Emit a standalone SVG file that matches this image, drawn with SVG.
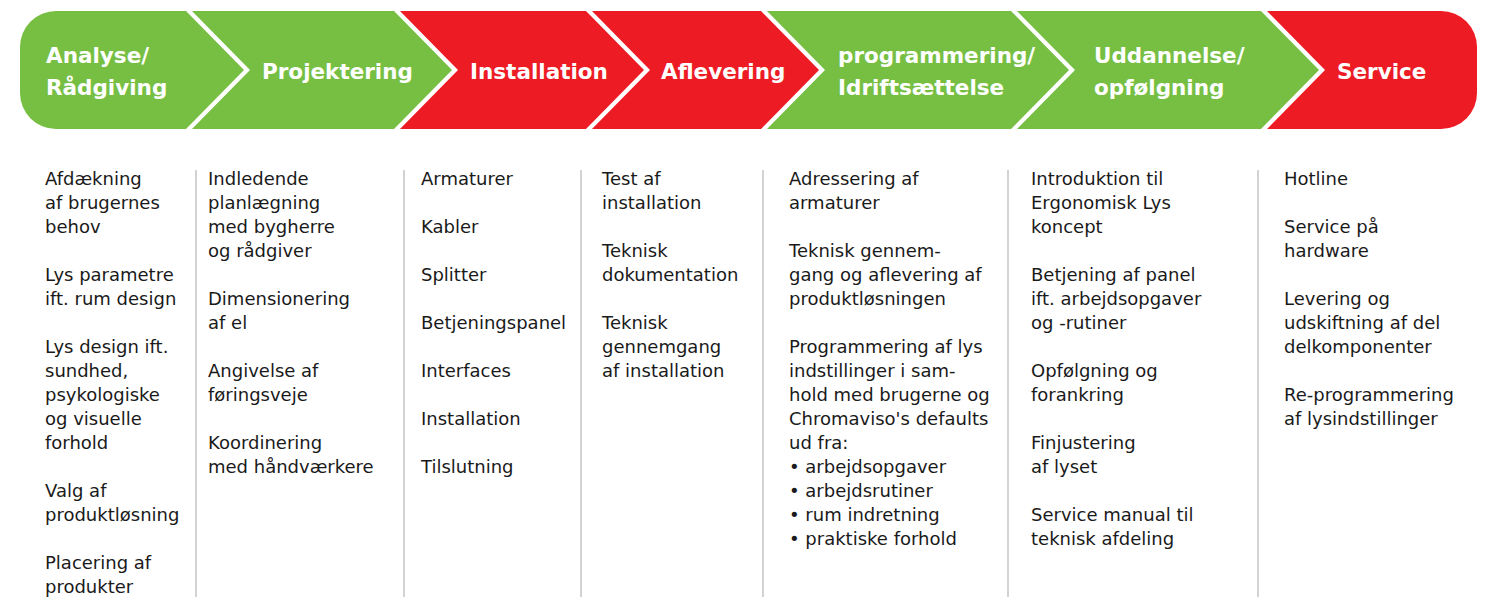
<svg xmlns="http://www.w3.org/2000/svg" width="1487" height="597" viewBox="0 0 1487 597">
<style>
.g{fill:#76bf43}
.r{fill:#ed1c24}
.h{font-family:"DejaVu Sans","Liberation Sans",sans-serif;font-weight:bold;font-size:21.5px;fill:#fff}
.b{font-family:"DejaVu Sans","Liberation Sans",sans-serif;font-size:18px;fill:#1a1a1a}
.div{stroke:#c4c4c4;stroke-width:1.5}
</style>
<defs>
<clipPath id="bar"><rect x="20" y="11" width="1457" height="118" rx="36" ry="36"/></clipPath>
</defs>
<rect width="1487" height="597" fill="#fff"/>
<g clip-path="url(#bar)">
<g id="n1"><polygon class="g" points="0,11 186,11 244,70 186,129 0,129"/>
<text class="h" x="46" y="63">Analyse/</text><text class="h" x="46" y="95">Rådgiving</text></g>
<g id="n2"><polygon class="g" points="192,11 394,11 452,70 394,129 192,129 250,70"/>
<text class="h" x="262" y="79">Projektering</text></g>
<g id="n3"><polygon class="r" points="400,11 586,11 644,70 586,129 400,129 458,70"/>
<text class="h" x="470" y="79">Installation</text></g>
<g id="n4"><polygon class="r" points="592,11 761,11 819,70 761,129 592,129 650,70"/>
<text class="h" x="661" y="79">Aflevering</text></g>
<g id="n5"><polygon class="g" points="767,11 1011,11 1069,70 1011,129 767,129 825,70"/>
<text class="h" x="838" y="63">programmering/</text><text class="h" x="838" y="95">Idriftsættelse</text></g>
<g id="n6"><polygon class="g" points="1017,11 1261,11 1319,70 1261,129 1017,129 1075,70"/>
<text class="h" x="1094" y="63">Uddannelse/</text><text class="h" x="1094" y="95">opfølgning</text></g>
<g id="n7"><polygon class="r" points="1267,11 1487,11 1487,129 1267,129 1325,70"/>
<text class="h" x="1337" y="79">Service</text></g>
</g>
<g id="dividers">
<line class="div" x1="196" y1="170" x2="196" y2="597"/>
<line class="div" x1="404" y1="170" x2="404" y2="597"/>
<line class="div" x1="581" y1="170" x2="581" y2="597"/>
<line class="div" x1="763" y1="170" x2="763" y2="597"/>
<line class="div" x1="1008" y1="170" x2="1008" y2="597"/>
<line class="div" x1="1258" y1="170" x2="1258" y2="597"/>
</g>
<g id="c1" class="b">
<text x="45" y="185">Afdækning</text>
<text x="45" y="209">af brugernes</text>
<text x="45" y="233">behov</text>
<text x="45" y="281">Lys parametre</text>
<text x="45" y="305">ift. rum design</text>
<text x="45" y="353">Lys design ift.</text>
<text x="45" y="377">sundhed,</text>
<text x="45" y="401">psykologiske</text>
<text x="45" y="425">og visuelle</text>
<text x="45" y="449">forhold</text>
<text x="45" y="497">Valg af</text>
<text x="45" y="521">produktløsning</text>
<text x="45" y="569">Placering af</text>
<text x="45" y="593">produkter</text>
</g>
<g id="c2" class="b">
<text x="208" y="185">Indledende</text>
<text x="208" y="209">planlægning</text>
<text x="208" y="233">med bygherre</text>
<text x="208" y="257">og rådgiver</text>
<text x="208" y="305">Dimensionering</text>
<text x="208" y="329">af el</text>
<text x="208" y="377">Angivelse af</text>
<text x="208" y="401">føringsveje</text>
<text x="208" y="449">Koordinering</text>
<text x="208" y="473">med håndværkere</text>
</g>
<g id="c3" class="b">
<text x="421" y="185">Armaturer</text>
<text x="421" y="233">Kabler</text>
<text x="421" y="281">Splitter</text>
<text x="421" y="329">Betjeningspanel</text>
<text x="421" y="377">Interfaces</text>
<text x="421" y="425">Installation</text>
<text x="421" y="473">Tilslutning</text>
</g>
<g id="c4" class="b">
<text x="602" y="185">Test af</text>
<text x="602" y="209">installation</text>
<text x="602" y="257">Teknisk</text>
<text x="602" y="281">dokumentation</text>
<text x="602" y="329">Teknisk</text>
<text x="602" y="353">gennemgang</text>
<text x="602" y="377">af installation</text>
</g>
<g id="c5" class="b">
<text x="789" y="185">Adressering af</text>
<text x="789" y="209">armaturer</text>
<text x="789" y="257">Teknisk gennem-</text>
<text x="789" y="281">gang og aflevering af</text>
<text x="789" y="305">produktløsningen</text>
<text x="789" y="353">Programmering af lys</text>
<text x="789" y="377">indstillinger i sam-</text>
<text x="789" y="401">hold med brugerne og</text>
<text x="789" y="425">Chromaviso's defaults</text>
<text x="789" y="449">ud fra:</text>
<text x="789" y="473">• arbejdsopgaver</text>
<text x="789" y="497">• arbejdsrutiner</text>
<text x="789" y="521">• rum indretning</text>
<text x="789" y="545">• praktiske forhold</text>
</g>
<g id="c6" class="b">
<text x="1031" y="185">Introduktion til</text>
<text x="1031" y="209">Ergonomisk Lys</text>
<text x="1031" y="233">koncept</text>
<text x="1031" y="281">Betjening af panel</text>
<text x="1031" y="305">ift. arbejdsopgaver</text>
<text x="1031" y="329">og -rutiner</text>
<text x="1031" y="377">Opfølgning og</text>
<text x="1031" y="401">forankring</text>
<text x="1031" y="449">Finjustering</text>
<text x="1031" y="473">af lyset</text>
<text x="1031" y="521">Service manual til</text>
<text x="1031" y="545">teknisk afdeling</text>
</g>
<g id="c7" class="b">
<text x="1284" y="185">Hotline</text>
<text x="1284" y="233">Service på</text>
<text x="1284" y="257">hardware</text>
<text x="1284" y="305">Levering og</text>
<text x="1284" y="329">udskiftning af del</text>
<text x="1284" y="353">delkomponenter</text>
<text x="1284" y="401">Re-programmering</text>
<text x="1284" y="425">af lysindstillinger</text>
</g>
</svg>
